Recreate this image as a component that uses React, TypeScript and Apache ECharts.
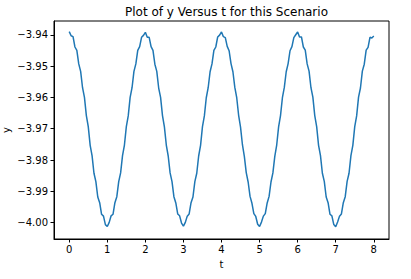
import React, { useEffect, useRef } from "react";
import * as echarts from "echarts";

const tValues: number[] = [
  0, 0.05, 0.1, 0.15, 0.2, 0.25, 0.3, 0.35, 0.4, 0.45,
  0.5, 0.55, 0.6, 0.65, 0.7, 0.75, 0.8, 0.85, 0.9, 0.95,
  1, 1.05, 1.1, 1.15, 1.2, 1.25, 1.3, 1.35, 1.4, 1.45,
  1.5, 1.55, 1.6, 1.65, 1.7, 1.75, 1.8, 1.85, 1.9, 1.95,
  2, 2.05, 2.1, 2.15, 2.2, 2.25, 2.3, 2.35, 2.4, 2.45,
  2.5, 2.55, 2.6, 2.65, 2.7, 2.75, 2.8, 2.85, 2.9, 2.95,
  3, 3.05, 3.1, 3.15, 3.2, 3.25, 3.3, 3.35, 3.4, 3.45,
  3.5, 3.55, 3.6, 3.65, 3.7, 3.75, 3.8, 3.85, 3.9, 3.95,
  4, 4.05, 4.1, 4.15, 4.2, 4.25, 4.3, 4.35, 4.4, 4.45,
  4.5, 4.55, 4.6, 4.65, 4.7, 4.75, 4.8, 4.85, 4.9, 4.95,
  5, 5.05, 5.1, 5.15, 5.2, 5.25, 5.3, 5.35, 5.4, 5.45,
  5.5, 5.55, 5.6, 5.65, 5.7, 5.75, 5.8, 5.85, 5.9, 5.95,
  6, 6.05, 6.1, 6.15, 6.2, 6.25, 6.3, 6.35, 6.4, 6.45,
  6.5, 6.55, 6.6, 6.65, 6.7, 6.75, 6.8, 6.85, 6.9, 6.95,
  7, 7.05, 7.1, 7.15, 7.2, 7.25, 7.3, 7.35, 7.4, 7.45,
  7.5, 7.55, 7.6, 7.65, 7.7, 7.75, 7.8, 7.85, 7.9, 7.95,
  8,
];

const yValues: number[] = [
  -3.9390, -3.9403, -3.9406, -3.9439, -3.9450, -3.9493, -3.9517, -3.9569, -3.9600, -3.9658,
  -3.9693, -3.9753, -3.9786, -3.9842, -3.9869, -3.9918, -3.9936, -3.9973, -3.9979, -4.0006,
  -4.0012, -3.9999, -3.9978, -3.9973, -3.9936, -3.9917, -3.9869, -3.9841, -3.9786, -3.9752,
  -3.9693, -3.9659, -3.9600, -3.9569, -3.9517, -3.9493, -3.9450, -3.9438, -3.9408, -3.9402,
  -3.9392, -3.9408, -3.9408, -3.9438, -3.9450, -3.9494, -3.9517, -3.9570, -3.9600, -3.9658,
  -3.9694, -3.9752, -3.9787, -3.9841, -3.9869, -3.9917, -3.9937, -3.9972, -3.9978, -4.0001,
  -4.0011, -3.9999, -3.9979, -3.9972, -3.9936, -3.9918, -3.9869, -3.9842, -3.9787, -3.9753,
  -3.9693, -3.9659, -3.9601, -3.9569, -3.9518, -3.9493, -3.9450, -3.9439, -3.9407, -3.9401,
  -3.9391, -3.9406, -3.9409, -3.9437, -3.9451, -3.9492, -3.9518, -3.9568, -3.9601, -3.9657,
  -3.9695, -3.9751, -3.9788, -3.9840, -3.9870, -3.9916, -3.9938, -3.9971, -3.9980, -4.0005,
  -4.0012, -3.9998, -3.9979, -3.9971, -3.9937, -3.9916, -3.9870, -3.9841, -3.9788, -3.9752,
  -3.9694, -3.9658, -3.9601, -3.9568, -3.9518, -3.9492, -3.9451, -3.9438, -3.9409, -3.9400,
  -3.9391, -3.9407, -3.9407, -3.9439, -3.9449, -3.9493, -3.9516, -3.9569, -3.9599, -3.9658,
  -3.9693, -3.9753, -3.9786, -3.9842, -3.9868, -3.9918, -3.9936, -3.9973, -3.9978, -4.0006,
  -4.0013, -3.9998, -3.9979, -3.9972, -3.9936, -3.9917, -3.9868, -3.9842, -3.9786, -3.9753,
  -3.9693, -3.9659, -3.9599, -3.9570, -3.9516, -3.9494, -3.9449, -3.9440, -3.9408, -3.9410,
  -3.9404,
];

const xTicks: number[] = [0, 1, 2, 3, 4, 5, 6, 7, 8];
const yTicks: number[] = [-4.0, -3.99, -3.98, -3.97, -3.96, -3.95, -3.94];

const FONT = "DejaVu Sans";

export default function App() {
  const ref = useRef<HTMLDivElement>(null);
  useEffect(() => {
    document.body.style.margin = "0";
    if (!ref.current) return;
    const chart = echarts.init(ref.current, undefined, { renderer: "svg" });
    const data = tValues.map((t, i) => [t, yValues[i]]);
    const fmtY = (v: number) => {
      const s = Math.abs(v).toFixed(2);
      return (v < 0 ? "\u2212" : "") + s;
    };
    chart.setOption({
      animation: false,
      title: {
        text: "Plot of y Versus t for this Scenario",
        left: 221.5,
        top: 1,
        textAlign: "center",
        textStyle: { fontFamily: FONT, fontSize: 12, fontWeight: "normal", color: "#000" },
      },
      grid: {
        left: 54,
        right: 22,
        top: 21,
        bottom: 40,
        containLabel: false,
        outerBoundsMode: "none",
        show: true,
        borderColor: "#000",
        borderWidth: 1,
        backgroundColor: "#fff",
      },
      xAxis: {
        type: "value",
        min: -0.4,
        max: 8.4,
        name: "t",
        nameLocation: "middle",
        nameGap: 20,
        nameTextStyle: { fontFamily: FONT, fontSize: 10, color: "#000" },
        axisLine: { show: true, onZero: false, lineStyle: { color: "#000", width: 1 } },
        axisTick: {
          show: true,
          length: 3.5,
          lineStyle: { color: "#000", width: 1 },
          customValues: xTicks,
        },
        axisLabel: {
          fontFamily: FONT,
          fontSize: 10,
          color: "#000",
          margin: 5,
          customValues: xTicks,
          formatter: (v: number) => String(v),
        },
        splitLine: { show: false },
      },
      yAxis: {
        type: "value",
        min: -4.0052,
        max: -3.9356,
        name: "y",
        nameLocation: "middle",
        nameGap: 43,
        nameMoveOverlap: false,
        nameTextStyle: { fontFamily: FONT, fontSize: 10, color: "#000" },
        axisLine: { show: true, onZero: false, lineStyle: { color: "#000", width: 1 } },
        axisTick: {
          show: true,
          length: 3.5,
          lineStyle: { color: "#000", width: 1 },
          customValues: yTicks,
        },
        axisLabel: {
          fontFamily: FONT,
          fontSize: 10,
          color: "#000",
          margin: 6,
          customValues: yTicks,
          formatter: fmtY,
        },
        splitLine: { show: false },
      },
      series: [
        {
          type: "line",
          data,
          showSymbol: false,
          symbol: "none",
          lineStyle: { color: "#1f77b4", width: 1.5 },
          itemStyle: { color: "#1f77b4" },
        },
      ],
    });
    return () => chart.dispose();
  }, []);
  return <div ref={ref} style={{ width: 411, height: 279 }} />;
}
